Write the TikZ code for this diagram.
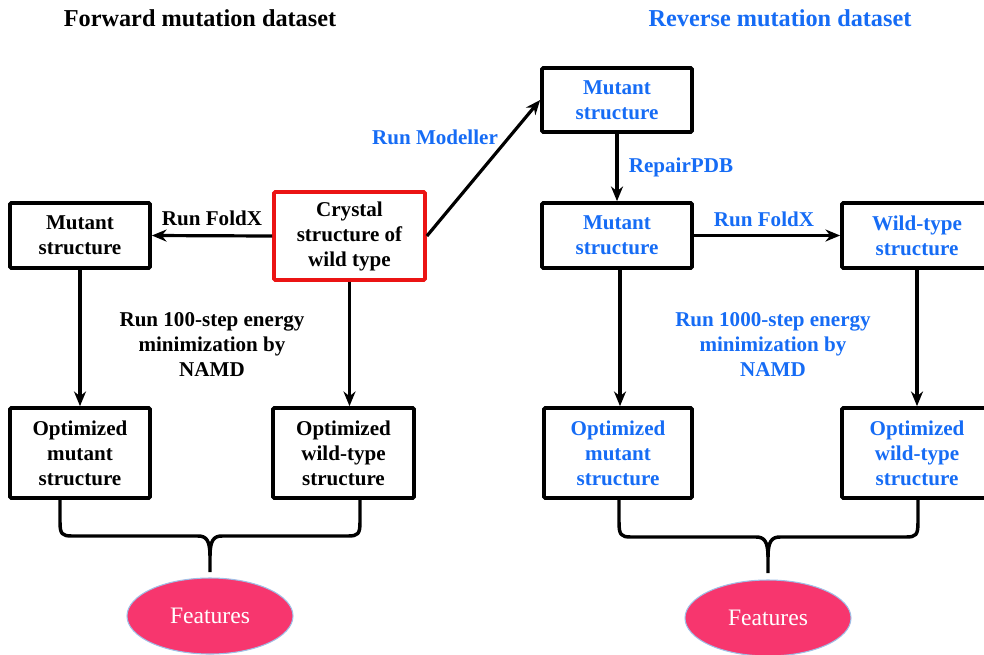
\documentclass[tikz,border=0pt]{standalone}
\usepackage{fontspec}
\setmainfont{Liberation Serif}
\usetikzlibrary{arrows.meta,shapes.geometric}
\definecolor{myblue}{RGB}{22,108,245}
\definecolor{featpink}{RGB}{247,54,110}
\definecolor{edgeblue}{RGB}{160,190,230}
\definecolor{boxred}{RGB}{235,20,20}
\begin{document}
\begin{tikzpicture}[x=0.75pt,y=-0.75pt,
  box/.style={draw=black,line width=2.8pt,rounded corners=1pt,align=center,inner sep=0pt,font=\fontsize{15.8}{18.75}\selectfont\bfseries},
  lbl/.style={align=center,inner sep=0pt,font=\fontsize{15.8}{18.75}\selectfont\bfseries},
  ttl/.style={inner sep=0pt,font=\fontsize{18.2}{22}\selectfont\bfseries},
  arr/.style={line width=2.4pt,-{Stealth[length=11pt,width=9pt]}},
  brace/.style={line width=2.6pt,line join=round},
  feat/.style={ellipse,fill=featpink,draw=edgeblue,line width=0.8pt,minimum width=124.5pt,minimum height=57pt,inner sep=0pt,text=white,font=\fontsize{17.7}{20}\selectfont}
]
\useasboundingbox (0,0) rectangle (984,654);
% titles
\node[ttl] (t1) at (200,18) {Forward mutation dataset};
\node[ttl,text=myblue] (t2) at (780,18) {Reverse mutation dataset};
% left boxes
\node[box,minimum width=105pt,minimum height=48.75pt] (lm) at (80,235.5) {Mutant\\structure};
\node[box,draw=boxred,minimum width=113.25pt,minimum height=66pt] (cr) at (349.5,236) {Crystal\\structure of\\wild type};
\node[box,minimum width=105pt,minimum height=67.5pt] (lom) at (80,453) {Optimized\\mutant\\structure};
\node[box,minimum width=105.75pt,minimum height=67.5pt] (low) at (343.5,453) {Optimized\\wild-type\\structure};
% right boxes
\node[box,text=myblue,minimum width=112.5pt,minimum height=48pt] (rtm) at (617,100) {Mutant\\structure};
\node[box,text=myblue,minimum width=112.5pt,minimum height=48.75pt] (rm) at (617,235.5) {Mutant\\structure};
\node[box,text=myblue,minimum width=112.5pt,minimum height=48.75pt] (rw) at (917,235.5) {Wild-type\\structure};
\node[box,text=myblue,minimum width=111pt,minimum height=67.5pt] (rom) at (618,453) {Optimized\\mutant\\structure};
\node[box,text=myblue,minimum width=112.5pt,minimum height=67.5pt] (row) at (917,453) {Optimized\\wild-type\\structure};
% labels
\node[lbl] (l1) at (212,218) {Run FoldX};
\node[lbl,text=myblue] (l2) at (435,137) {Run Modeller};
\node[lbl,text=myblue] (l3) at (681,167) {RepairPDB};
\node[lbl,text=myblue] (l4) at (764,219) {Run FoldX};
\node[lbl] (l5) at (212,345) {Run 100-step energy\\minimization by\\NAMD};
\node[lbl,text=myblue] (l6) at (773,345) {Run 1000-step energy\\minimization by\\NAMD};
% arrows
\draw[arr] (cr.west) -- (lm.east);
\draw[arr] (lm.south) -- (lom.north);
\draw[arr] (cr.south) -- (cr.south |- low.north);
\draw[arr] (cr.east) -- (rtm.west);
\draw[arr] (rtm.south) -- (rm.north);
\draw[arr] (rm.east) -- (rw.west);
\draw[arr] ([xshift=2.25pt]rm.south) -- ([xshift=2.25pt]rm.south |- rom.north);
\draw[arr] (rw.south) -- (row.north);
% features
\node[feat] (f1) at (210,616) {Features};
\node[feat] (f2) at (768,618) {Features};
% braces
\coordinate (b1l) at (60,498);
\coordinate (b1r) at (360,498);
\coordinate (b1t) at (210,572);
\draw[brace] (b1l) -- (60,522) .. controls (60,534) and (62,536) .. (72,536) -- (198,536) .. controls (206,536) and (210,540) .. (210,556) -- (b1t);
\draw[brace] (b1r) -- (360,522) .. controls (360,534) and (358,536) .. (348,536) -- (222,536) .. controls (214,536) and (210,540) .. (210,556);
\coordinate (b2l) at (619,498);
\coordinate (b2r) at (918,498);
\coordinate (b2t) at (768,573);
\draw[brace] (b2l) -- (619,522) .. controls (619,535) and (621,537) .. (631,537) -- (756,537) .. controls (764,537) and (768,541) .. (768,557) -- (b2t);
\draw[brace] (b2r) -- (918,522) .. controls (918,535) and (916,537) .. (906,537) -- (780,537) .. controls (772,537) and (768,541) .. (768,557);
\end{tikzpicture}
\end{document}
